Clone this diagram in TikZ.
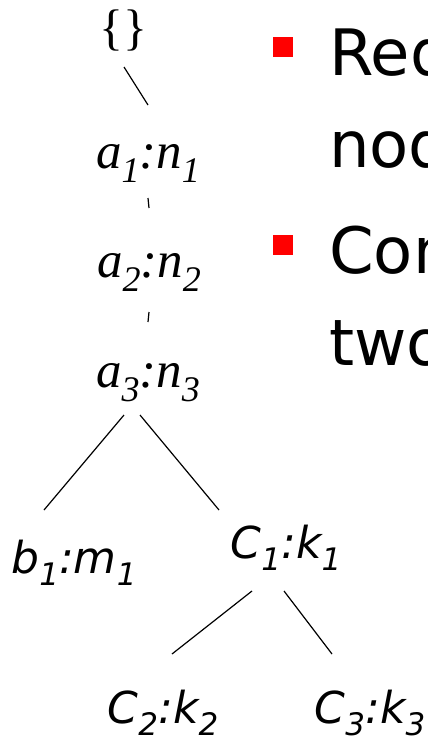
\documentclass[tikz,border=0pt]{standalone}
\usepackage{fontspec}
\setmainfont{DejaVu Sans}
\newfontfamily\labserif{Liberation Serif}
\newfontfamily\labsans{DejaVu Sans}
\newcommand\tlab[4]{{\labserif\fontsize{51}{51}\selectfont\itshape #1\raisebox{-14pt}{\fontsize{36}{36}\selectfont #2}:#3\raisebox{-14pt}{\fontsize{36}{36}\selectfont #4}}}
\newcommand\blab[4]{{\labsans\fontsize{44}{44}\selectfont\itshape #1\raisebox{-12pt}{\fontsize{31}{31}\selectfont #2}:#3\raisebox{-12pt}{\fontsize{31}{31}\selectfont #4}}}
\tikzset{
  lab/.style={anchor=base, inner sep=0pt},
  edge/.style={line width=1.2pt, black},
  bulletbox/.style={fill=red, draw=none, minimum size=20pt, inner sep=0pt},
  btext/.style={anchor=base west, inner sep=0pt, font=\fontsize{64}{64}\selectfont}
}
\begin{document}
\begin{tikzpicture}[x=1pt, y=-1pt]
\useasboundingbox (0,0) rectangle (428,742);
% tree nodes
\node[lab] (root) at (123,44) {\labserif\fontsize{50}{50}\selectfont\{\}};
\node[lab] (a1) at (148,168) {\tlab{a}{1}{n}{1}};
\node[lab] (a2) at (149,277) {\tlab{a}{2}{n}{2}};
\node[lab] (a3) at (148,387) {\tlab{a}{3}{n}{3}};
\node[lab] (b1) at (74,573) {\blab{b}{1}{m}{1}};
\node[lab] (c1) at (286,558) {\blab{C}{1}{k}{1}};
\node[lab] (c2) at (163,723) {\blab{C}{2}{k}{2}};
\node[lab] (c3) at (370,723) {\blab{C}{3}{k}{3}};
% connectors
\draw[edge] ([shift={(1,23)}]root.base) -- ([shift={(0,-63)}]a1.base);
\draw[edge] ([shift={(0,30)}]a1.base) -- ([shift={(0,-69)}]a2.base);
\draw[edge] ([shift={(0,35)}]a2.base) -- ([shift={(0,-65)}]a3.base);
\draw[edge] ([shift={(-24,28)}]a3.base) -- ([shift={(-30,-63)}]b1.base);
\draw[edge] ([shift={(-8,28)}]a3.base) -- ([shift={(-67,-48)}]c1.base);
\draw[edge] ([shift={(-34,33)}]c1.base) -- ([shift={(9,-69)}]c2.base);
\draw[edge] ([shift={(-2,33)}]c1.base) -- ([shift={(-38,-69)}]c3.base);
% bullets
\node[bulletbox] (bu1) at (283,47) {};
\node[bulletbox] (bu2) at (283,245) {};
\node[btext] (t1) at (329,75) {Red};
\node[btext] (t2) at (329,167) {nod};
\node[btext] (t3) at (329,273) {Con};
\node[btext] (t4) at (329,365) {two};
\end{tikzpicture}
\end{document}
